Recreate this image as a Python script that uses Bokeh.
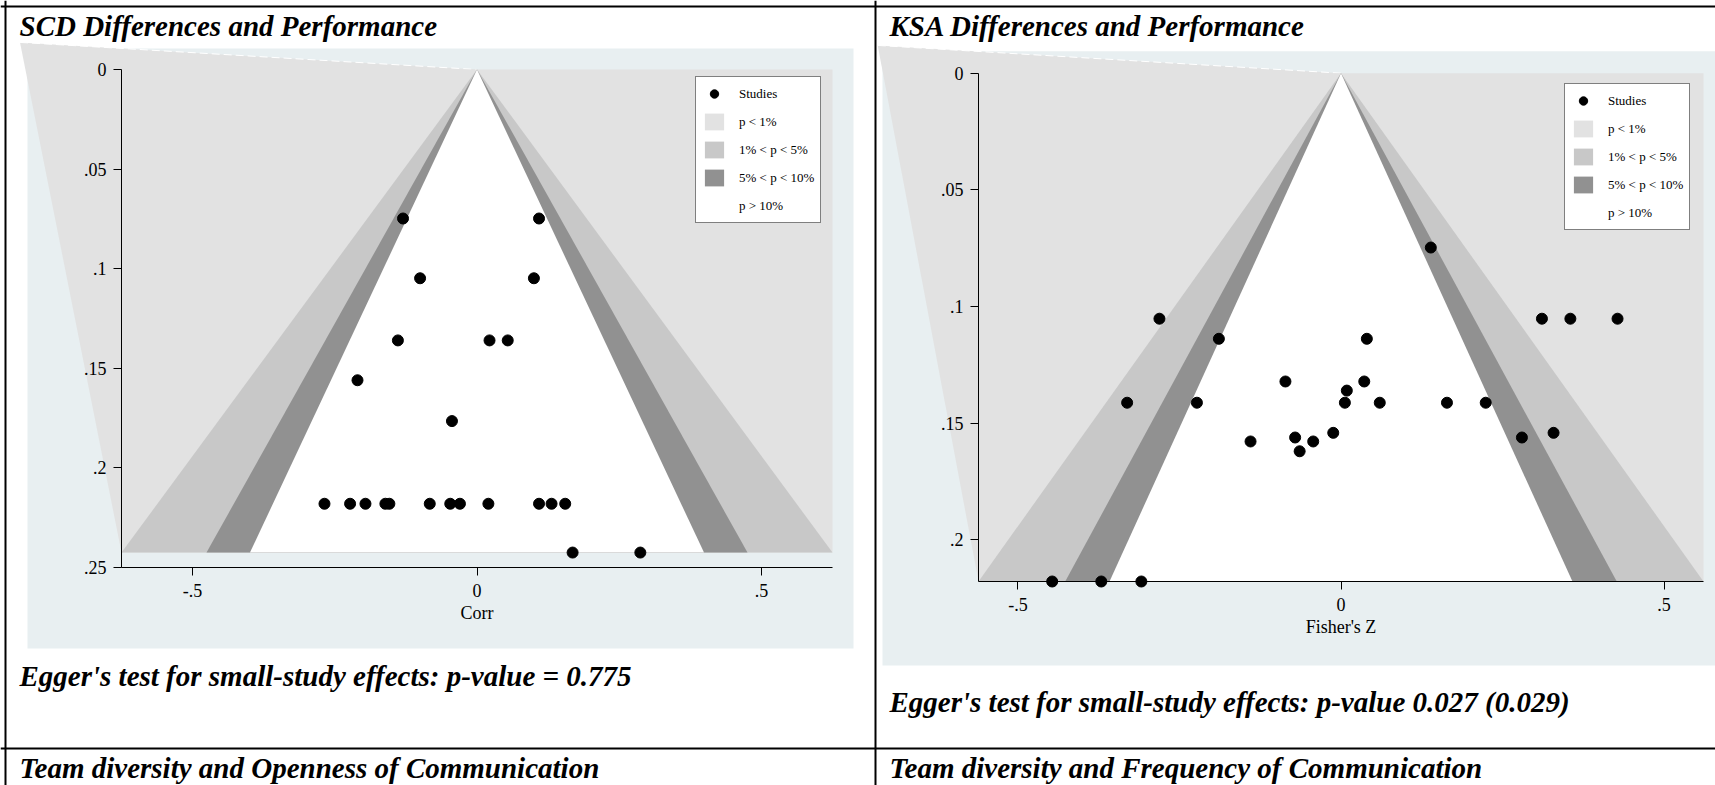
import numpy as np
from bokeh.plotting import figure
from bokeh.models import Range1d, LinearAxis, FixedTicker, Legend, LegendItem, Span
from bokeh.embed import file_html
from bokeh.resources import INLINE
from bokeh.core.properties import value

# ---------------- data ----------------
scd_effect = [-0.130, 0.109, -0.100, 0.100, -0.139, 0.022, 0.054, -0.210, -0.044,
              -0.268, -0.223, -0.196, -0.161, -0.154, -0.083, -0.047, -0.030, 0.020,
              0.109, 0.131, 0.155, 0.168, 0.287]
scd_se = [0.0748, 0.0748, 0.1048, 0.1048, 0.136, 0.136, 0.136, 0.156, 0.1765,
          0.218, 0.218, 0.218, 0.218, 0.218, 0.218, 0.218, 0.218, 0.218,
          0.218, 0.218, 0.218, 0.2425, 0.2425]

ksa_effect = [0.139, -0.281, 0.311, 0.355, 0.428, -0.189, 0.040, -0.086, 0.036, 0.009,
              -0.331, -0.223, 0.006, 0.060, 0.164, 0.224, -0.012, 0.329, -0.071, 0.280,
              -0.140, -0.043, -0.064, -0.447, -0.371, -0.309]
ksa_se = [0.0747, 0.1052, 0.1052, 0.1052, 0.1052, 0.1138, 0.1138, 0.1321, 0.1321, 0.136,
          0.1412, 0.1412, 0.1412, 0.1412, 0.1412, 0.1412, 0.1541, 0.1541, 0.1561, 0.1561,
          0.1578, 0.1578, 0.162, 0.2178, 0.2178, 0.2178]

scd_yticks = [0, 0.05, 0.1, 0.15, 0.2, 0.25]
scd_ytick_labels = ["0", ".05", ".1", ".15", ".2", ".25"]
ksa_yticks = [0, 0.05, 0.1, 0.15, 0.2]
ksa_ytick_labels = ["0", ".05", ".1", ".15", ".2"]
xticks = [-0.5, 0, 0.5]
xtick_labels = ["-.5", "0", ".5"]

scd_axis_max = 0.25
ksa_axis_max = 0.2178

# rendering artifact wedge (outside the plot region), as seen in the source image
scd_wedge_x = [-0.803, 0.0, -0.6247]
scd_wedge_y = [-0.0136, 0.0, 0.2425]
ksa_wedge_x = [-0.717, 0.0, -0.561]
ksa_wedge_y = [-0.0119, 0.0, 0.2178]

contour_z = [2.576, 1.960, 1.645]
legend_labels = ["Studies", "p < 1%", "1% < p < 5%", "5% < p < 10%", "p > 10%"]

titles = ["SCD Differences and Performance", "KSA Differences and Performance"]
egger = ["Egger's test for small-study effects:  p-value = 0.775",
         "Egger's test for small-study effects:  p-value 0.027 (0.029)"]
next_titles = ["Team diversity and Openness of Communication",
               "Team diversity and Frequency of Communication"]
xlabels = ["Corr", "Fisher's Z"]

# ---------------- page layout ----------------
W, H = 1715, 785
X0, Y0 = 0, 0
FONT = value("Liberation Serif")
C_BG = "#e8eff1"
C_P1 = "#e2e2e2"
C_P5 = "#c8c8c8"
C_P10 = "#919191"

p = figure(width=W, height=H, x_range=Range1d(X0, X0 + W), y_range=Range1d(Y0 + H, Y0),
           x_axis_type=None, y_axis_type=None, output_backend="svg",
           toolbar_location=None, min_border=0, outline_line_color=None)
p.xgrid.visible = False
p.ygrid.visible = False
p.background_fill_color = "white"
p.border_fill_color = "white"


def panel(name, eff, se, axis_max, yticks, ylabels, xlabel, box, bg, wedge_x, wedge_y, legend_loc):
    L, R, T, B = box
    se_max = max(se)
    xmax = contour_z[0] * se_max
    sx = (R - L) / (2 * xmax)
    sy = (B - T) / axis_max
    xr = name + "_x"
    yr = name + "_y"
    p.extra_x_ranges[xr] = Range1d(-xmax - (L - X0) / sx, xmax + (X0 + W - R) / sx)
    p.extra_y_ranges[yr] = Range1d(axis_max + (Y0 + H - B) / sy, -(T - Y0) / sy)

    # graph region background (page coords)
    p.quad(left=[bg[0]], right=[bg[1]], top=[bg[2]], bottom=[bg[3]],
           fill_color=C_BG, line_color=None)
    kw = dict(x_range_name=xr, y_range_name=yr)
    p.patch(wedge_x, wedge_y, fill_color=C_P1, line_color=None, **kw)
    p.line(wedge_x[:2], wedge_y[:2], line_color="white", line_width=1, line_dash="8 4", **kw)
    r1 = p.quad(left=[-xmax], right=[xmax], top=[0], bottom=[se_max],
                fill_color=C_P1, line_color=None, **kw)
    band_rs = []
    for z, col in zip(contour_z, [C_P5, C_P10, "white"]):
        hw = z * se_max
        band_rs.append(p.patch([0, -hw, hw], [0, se_max, se_max], fill_color=col,
                               line_color=None, **kw))
    rs = p.scatter(eff, se, size=11, color="black", **kw)

    xax = LinearAxis(fixed_location=axis_max, bounds=(-xmax, xmax),
                     ticker=FixedTicker(ticks=xticks),
                     major_label_overrides={t: l for t, l in zip(xticks, xtick_labels)},
                     axis_label=xlabel, **kw)
    yax = LinearAxis(fixed_location=-xmax, bounds=(0, axis_max),
                     ticker=FixedTicker(ticks=yticks),
                     major_label_overrides={t: l for t, l in zip(yticks, ylabels)}, **kw)
    for ax in (xax, yax):
        ax.axis_line_color = "black"
        ax.axis_line_width = 1
        ax.major_tick_line_color = "black"
        ax.major_tick_out = 8
        ax.major_tick_in = 0
        ax.minor_tick_line_color = None
        ax.major_label_text_font = "Liberation Serif"
        ax.major_label_text_font_size = "18px"
        ax.major_label_text_color = "black"
        ax.axis_label_text_font = "Liberation Serif"
        ax.axis_label_text_font_size = "18px"
        ax.axis_label_text_font_style = "normal"
        ax.axis_label_text_color = "black"
    xax.major_label_standoff = 8
    xax.axis_label_standoff = 3
    yax.major_label_standoff = 7
    p.add_layout(xax, "below")
    p.add_layout(yax, "left")

    items = [LegendItem(label=legend_labels[0], renderers=[rs]),
             LegendItem(label=legend_labels[1], renderers=[r1])]
    for lab, r in zip(legend_labels[2:], band_rs):
        items.append(LegendItem(label=lab, renderers=[r]))
    leg = Legend(items=items, location=legend_loc, orientation="vertical",
                 glyph_width=24, glyph_height=21, spacing=7, padding=6, margin=0,
                 label_standoff=13, label_text_font="Liberation Serif",
                 label_text_font_size="13px", label_text_color="black",
                 border_line_color="black", border_line_width=1,
                 background_fill_color="white", background_fill_alpha=1.0)
    p.add_layout(leg, "center")


# legend location: (left, bottom) in pixels from the frame's bottom-left
panel("scd", scd_effect, scd_se, scd_axis_max, scd_yticks, scd_ytick_labels, xlabels[0],
      (121, 832, 69, 567), (27, 853, 48, 648), scd_wedge_x, scd_wedge_y, (695, H - 223))
panel("ksa", ksa_effect, ksa_se, ksa_axis_max, ksa_yticks, ksa_ytick_labels, xlabels[1],
      (978, 1703, 72.7, 581), (882, 1715, 50.7, 665), ksa_wedge_x, ksa_wedge_y, (1564, H - 230))

# texts (vertical centre positions)
TS = "29px"
p.text(x=[19, 889], y=[25, 25], text=titles, text_font=FONT, text_font_style="bold italic",
       text_font_size=TS, text_baseline="middle", text_align="left", text_color="black")
p.text(x=[19, 889], y=[675, 701], text=egger, text_font=FONT, text_font_style="bold italic",
       text_font_size=TS, text_baseline="middle", text_align="left", text_color="black")
p.text(x=[19, 889], y=[767, 767], text=next_titles, text_font=FONT, text_font_style="bold italic",
       text_font_size=TS, text_baseline="middle", text_align="left", text_color="black")

# table rules
for loc in [6, 748]:
    p.add_layout(Span(location=loc, dimension="width", line_color="black", line_width=2))
for loc in [5, 875]:
    p.add_layout(Span(location=loc, dimension="height", line_color="black", line_width=2))

open("out.html", "w").write(file_html(p, INLINE))
